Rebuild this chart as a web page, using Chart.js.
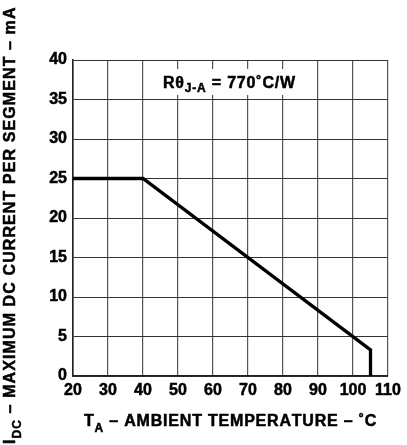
<!DOCTYPE html>
<html>
<head>
<meta charset="utf-8">
<script src="https://cdn.jsdelivr.net/npm/chart.js@4/dist/chart.umd.min.js"></script>
<style>
html,body{margin:0;padding:0;background:#fff;}
#wrap{width:407px;height:445px;position:relative;}
canvas{display:block;}
</style>
</head>
<body>
<div id="wrap"><canvas id="c" width="407" height="445"></canvas></div>
<script>
// Data
const ambientTempC = [20, 40, 105, 105];
const maxCurrentMA = [25, 25, 3.3, 0];
const xTickValues = [20, 30, 40, 50, 60, 70, 80, 90, 100, 110];
const yTickValues = [0, 5, 10, 15, 20, 25, 30, 35, 40];
const annotationMain = 'Rθ';
const annotationSub = 'J-A';
const annotationRest = ' = 770˚C/W';
const xTitleParts = [['T', 0], ['A', 1], [' – AMBIENT TEMPERATURE – ˚C', 0]];
const yTitleParts = [['I', 0], ['DC', 1], [' – MAXIMUM DC CURRENT PER SEGMENT – mA', 0]];

const FONT = '"Liberation Sans", Arial, Helvetica, sans-serif';

function drawRich(ctx, parts, x, y, size, subSize, subDy, spacing) {
  let cx = x;
  for (const [t, sub] of parts) {
    ctx.font = 'bold ' + (sub ? subSize : size) + 'px ' + FONT;
    for (const ch of t) {
      ctx.fillText(ch, cx, y + (sub ? subDy : 0));
      ctx.strokeText(ch, cx, y + (sub ? subDy : 0));
      cx += ctx.measureText(ch).width + spacing;
    }
  }
  return cx - x;
}

const textPlugin = {
  id: 'textPlugin',
  afterDraw(chart) {
    const ctx = chart.ctx;
    ctx.save();
    ctx.fillStyle = '#000';
    ctx.strokeStyle = '#000';
    ctx.lineWidth = 0.5;
    ctx.textBaseline = 'alphabetic';
    ctx.textAlign = 'left';
    // annotation with white background
    ctx.save();
    ctx.fillStyle = '#fff';
    ctx.fillRect(158, 69, 144, 26);
    ctx.restore();
    drawRich(ctx, [[annotationMain, 0], [annotationSub, 1], [annotationRest, 0]], 163, 88, 16, 12, 4, 0.8);
    // x title
    drawRich(ctx, xTitleParts, 84, 426, 16, 12, 6, 0.8);
    // y title rotated
    ctx.save();
    ctx.translate(15, 444);
    ctx.rotate(-Math.PI / 2);
    drawRich(ctx, yTitleParts, 0, 0, 16, 12, 6, 1.1);
    ctx.restore();
    ctx.restore();
  }
};

new Chart(document.getElementById('c'), {
  type: 'line',
  data: {
    datasets: [{
      data: ambientTempC.map((x, i) => ({ x: x, y: maxCurrentMA[i] })),
      borderColor: '#000',
      borderWidth: 3.3,
      pointRadius: 0,
      tension: 0,
      fill: false
    }]
  },
  options: {
    responsive: false,
    animation: false,
    devicePixelRatio: 1,
    layout: { padding: { left: 0, right: 19, top: 60, bottom: 0 } },
    plugins: { legend: { display: false }, tooltip: { enabled: false } },
    scales: {
      x: {
        type: 'linear',
        min: 20, max: 110,
        afterBuildTicks(scale) { scale.ticks = xTickValues.map(v => ({ value: v })); },
        afterFit(scale) { scale.height = 69; },
        grid: { color: '#555', lineWidth: 1.2, drawTicks: false },
        border: { color: '#222', width: 1.6 },
        ticks: { color: '#000', padding: 5, textStrokeColor: '#000', textStrokeWidth: 0.5, font: { family: FONT, size: 16, weight: 'bold' }, maxRotation: 0 }
      },
      y: {
        type: 'linear',
        min: 0, max: 40,
        afterBuildTicks(scale) { scale.ticks = yTickValues.map(v => ({ value: v })); },
        afterFit(scale) { scale.width = 73; },
        grid: { color: '#333', lineWidth: 1, drawTicks: false },
        border: { color: '#222', width: 1.6 },
        ticks: { color: '#000', padding: 6, textStrokeColor: '#000', textStrokeWidth: 0.5, font: { family: FONT, size: 16, weight: 'bold' } }
      }
    }
  },
  plugins: [textPlugin]
});
</script>
</body>
</html>
